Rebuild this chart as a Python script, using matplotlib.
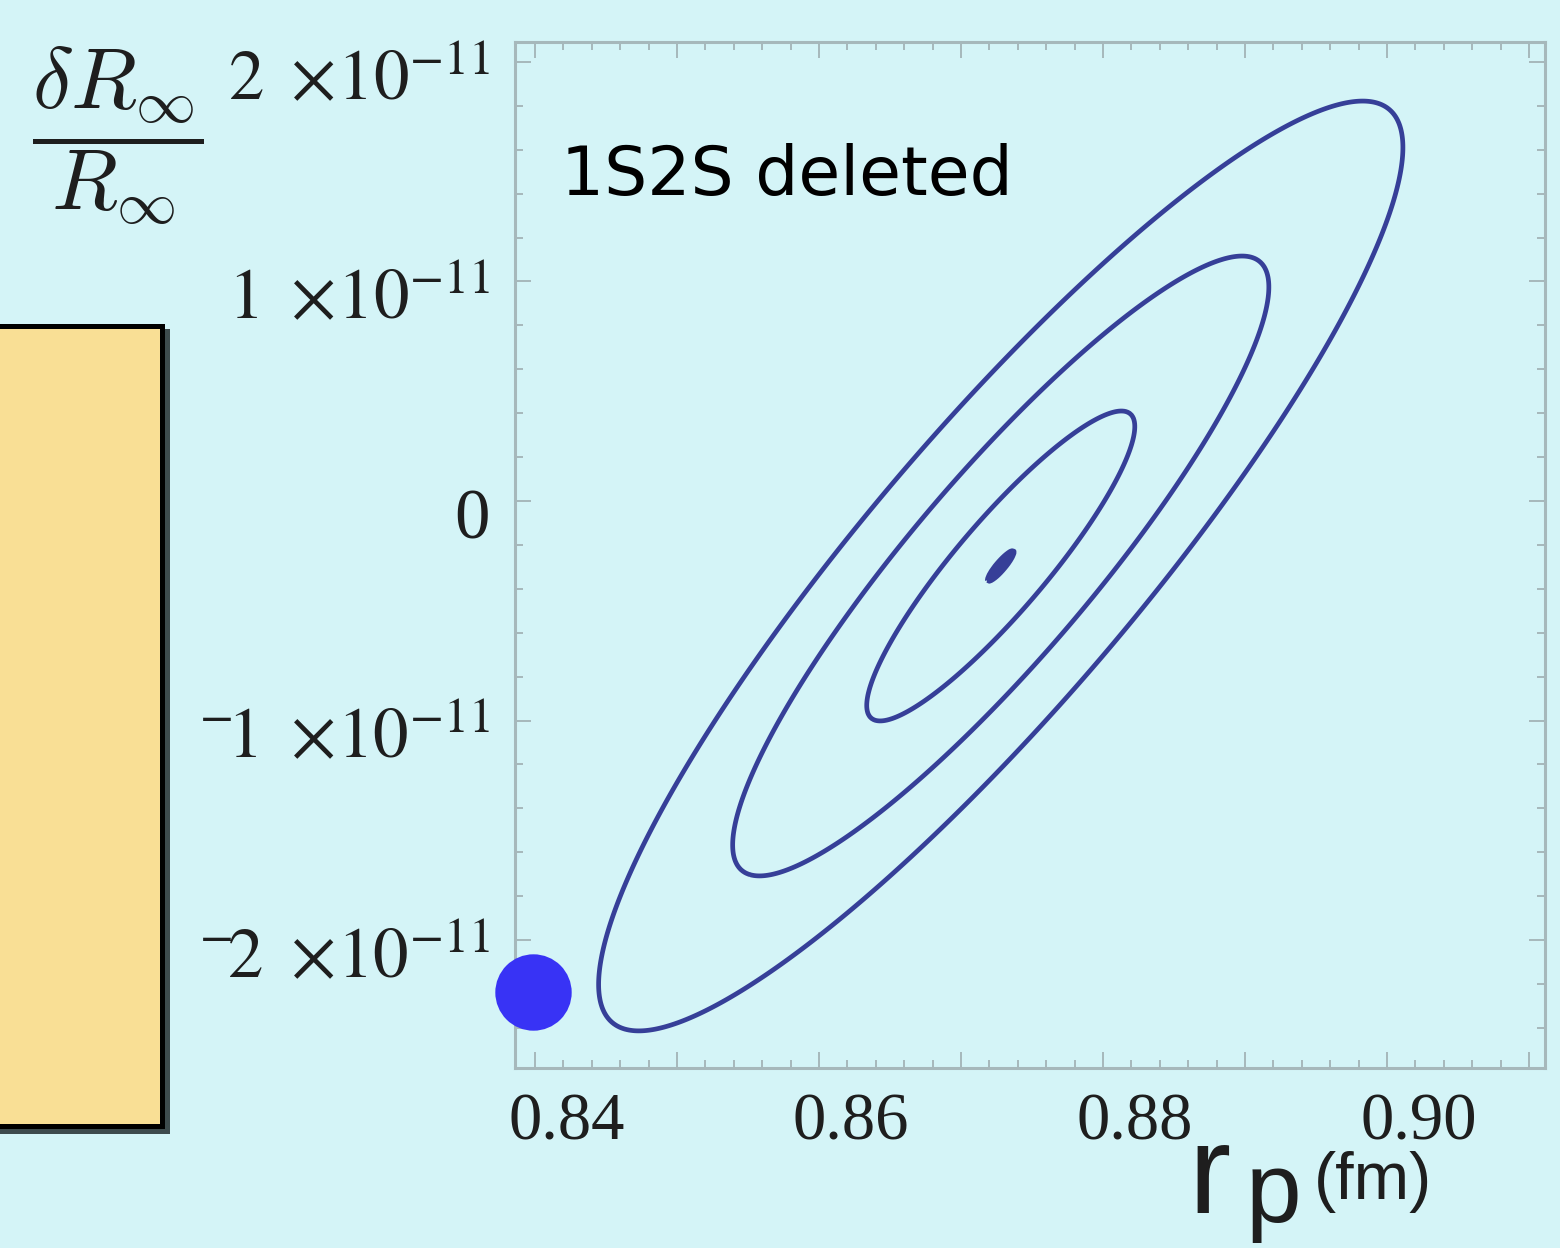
import numpy as np
import matplotlib
matplotlib.use("Agg")
import matplotlib.pyplot as plt
import matplotlib.transforms as mtransforms
from matplotlib.patches import Rectangle
from matplotlib.ticker import MultipleLocator

# fit result (rp in fm, dR/R dimensionless)
center_rp = 0.8728
center_dR = -0.296e-11
sigma_rp = 0.00944
sigma_dR = 0.706e-11
rho = 0.90
sigma_levels = [1, 2, 3]
core_level = 0.1

# muonic hydrogen point
mu_rp = 0.83986
mu_dR = -2.237e-11

x_ticks = [0.84, 0.85, 0.86, 0.87, 0.88, 0.89, 0.90, 0.91]
x_tick_labels = ['0.84', '', '0.86', '', '0.88', '', '0.90', '']
y_ticks = [2e-11, 1e-11, 0.0, -1e-11, -2e-11]
y_tick_labels = [r'$2\ \times\!10^{-11}$', r'$1\ \times\!10^{-11}$', '0',
                 r'$^{-}\!1\ \times\!10^{-11}$', r'$^{-}\!2\ \times\!10^{-11}$']

BG = '#d4f4f7'
FRAME = '#a6b8bb'
LINE = '#363f98'
W, H = 1560, 1248

plt.rcParams['mathtext.fontset'] = 'stix'
plt.rcParams['font.family'] = 'Liberation Serif'


def fx(x):
    return x / W


def fy(y):
    return 1 - y / H


fig = plt.figure(figsize=(W / 100, H / 100), dpi=100, facecolor=BG)

# yellow box on the left, with its drop shadow
fig.patches.append(Rectangle((fx(-20 + 5), fy(1126 + 5)), fx(182), 800 / H,
                             transform=fig.transFigure, facecolor='#3d4b4d',
                             edgecolor='#3d4b4d', lw=3.6, zorder=0))
fig.patches.append(Rectangle((fx(-20), fy(1126)), fx(182), 800 / H,
                             transform=fig.transFigure, facecolor='#f9df95',
                             edgecolor='black', lw=3.6, zorder=1))

ax = fig.add_axes([fx(515), fy(1068), fx(1030), 1026 / H])
ax.set_facecolor(BG)

# confidence contours of the correlated gaussian
xs = np.linspace(0.835, 0.915, 600)
ys = np.linspace(-2.7e-11, 2.2e-11, 600)
X, Y = np.meshgrid(xs, ys)
u = (X - center_rp) / sigma_rp
v = (Y - center_dR) / sigma_dR
chi2 = (u**2 - 2 * rho * u * v + v**2) / (1 - rho**2)
ax.contour(X, Y, chi2, levels=[k**2 for k in sigma_levels], colors=LINE,
           linewidths=3.4)
ax.contourf(X, Y, chi2, levels=[0, core_level**2], colors=LINE)
ax.contour(X, Y, chi2, levels=[core_level**2], colors=LINE, linewidths=3.4)

ax.plot(mu_rp, mu_dR, 'o', ms=55, color='#3833f5', mec='none',
        clip_on=False, zorder=5)

ax.set_xlim(0.838592, 0.911127)
ax.set_ylim(-2.5831e-11, 2.0911e-11)

ax.set_xticks(x_ticks)
ax.set_xticklabels(x_tick_labels)
ax.set_yticks(y_ticks)
ax.set_yticklabels(y_tick_labels)
ax.xaxis.set_minor_locator(MultipleLocator(0.002))
ax.yaxis.set_minor_locator(MultipleLocator(0.2e-11))

for s in ax.spines.values():
    s.set_color(FRAME)
    s.set_linewidth(2.2)

ax.tick_params(which='both', direction='in', top=True, right=True,
               color=FRAME, width=1.4, labelcolor='#1e1e1e')
ax.tick_params(which='major', length=11.5)
ax.tick_params(which='minor', length=6)
ax.tick_params(axis='x', labelsize=48, pad=18)
ax.tick_params(axis='y', labelsize=51, pad=18)

# the labels sit a little off the ticks in the original
shift_x = mtransforms.ScaledTranslation(0.32, 0, fig.dpi_scale_trans)
for lab in ax.get_xticklabels():
    lab.set_transform(lab.get_transform() + shift_x)
shift_y = mtransforms.ScaledTranslation(0, -0.12, fig.dpi_scale_trans)
for lab in ax.get_yticklabels():
    lab.set_transform(lab.get_transform() + shift_y)

# y label as a fraction
fig.text(fx(118), fy(136), r'$\dfrac{\delta R_\infty}{R_\infty}$',
         math_fontfamily='cm', fontsize=62, ha='center', va='center',
         color='#1e1e1e')

fig.text(fx(561), fy(195), '1S2S deleted', family='DejaVu Sans',
         fontsize=49, color='black', va='baseline')

# x label r_p^(fm)
fig.text(fx(1188), fy(1213), 'r', family='Liberation Sans', fontsize=91,
         color='#1e1e1e', va='baseline')
fig.text(fx(1246), fy(1222), 'p', family='Liberation Sans', fontsize=72,
         color='#1e1e1e', va='baseline')
fig.text(fx(1314), fy(1199), '(fm)', family='Liberation Sans', fontsize=48,
         color='#1e1e1e', va='baseline')

fig.savefig('out.png', dpi=100, facecolor=BG)
